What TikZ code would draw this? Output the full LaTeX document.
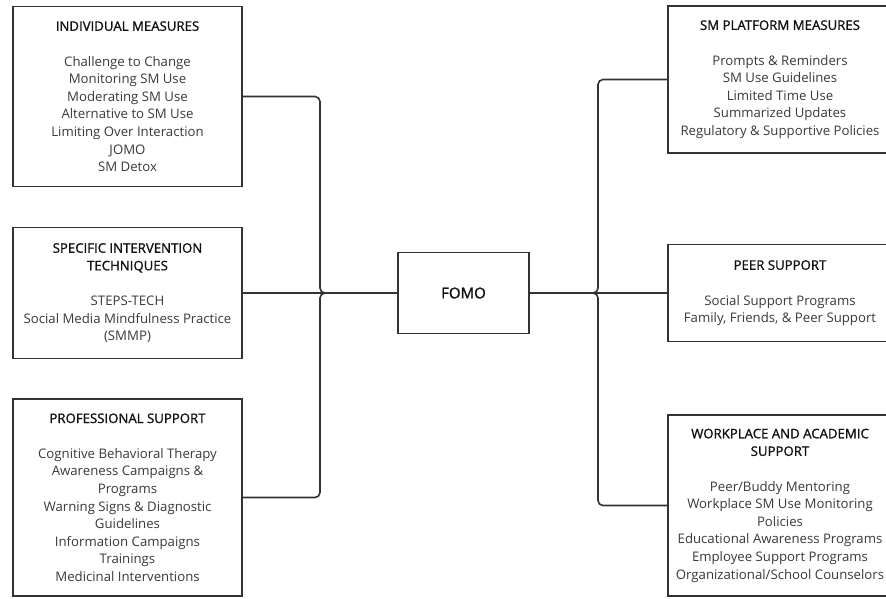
\documentclass[tikz,border=0pt]{standalone}
\usepackage{fontspec}
\setmainfont{Open Sans}
\newfontfamily\headfont[FakeBold=1.2]{Open Sans}
\usetikzlibrary{positioning,calc}
\definecolor{linec}{HTML}{333333}
\definecolor{bodyc}{HTML}{3A3A3A}
\definecolor{headc}{HTML}{111111}
\newcommand\hd[1]{{\headfont\textcolor{headc}{#1}}}
\tikzset{
  box/.style={draw=linec, line width=1.6pt, fill=white, inner sep=0pt,
    align=center, text=bodyc,
    font=\fontsize{13.2}{17.6}\selectfont},
  hub/.style={box, font=\headfont\fontsize{15}{18}\selectfont, text=headc},
  conn/.style={draw=linec, line width=1.6pt, rounded corners=5pt},
}
\begin{document}
\begin{tikzpicture}[x=1pt, y=-1pt]
\useasboundingbox (0,0) rectangle (886,598);
\clip (0,0) rectangle (886,598);

% central topic
\node[hub, minimum width=131pt, minimum height=81pt] (fomo) at (463.5,293) {FOMO};

% left-hand branches
\node[box, minimum width=229pt, minimum height=180pt] (ind) at (127.5,96.5)
  {\hd{INDIVIDUAL MEASURES}\\[17.6pt]
   Challenge to Change\\ Monitoring SM Use\\ Moderating SM Use\\
   Alternative to SM Use\\ Limiting Over Interaction\\ JOMO\\ SM Detox};
\node[box, minimum width=229pt, minimum height=131pt] (tech) at (127.5,293)
  {\hd{SPECIFIC INTERVENTION}\\ \hd{TECHNIQUES}\\[17.6pt]
   STEPS-TECH\\ Social Media Mindfulness Practice\\ (SMMP)};
\node[box, minimum width=229pt, minimum height=197pt] (prof) at (127.5,497.5)
  {\hd{PROFESSIONAL SUPPORT}\\[17.6pt]
   Cognitive Behavioral Therapy\\ Awareness Campaigns \&\\ Programs\\
   Warning Signs \& Diagnostic\\ Guidelines\\ Information Campaigns\\
   Trainings\\ Medicinal Interventions};

% right-hand branches
\node[box, minimum width=224pt, minimum height=147pt] (plat) at (780,79.5)
  {\hd{SM PLATFORM MEASURES}\\[17.6pt]
   Prompts \& Reminders\\ SM Use Guidelines\\ Limited Time Use\\
   Summarized Updates\\ Regulatory \& Supportive Policies};
\node[box, minimum width=224pt, minimum height=97pt] (peer) at (780,293)
  {\hd{PEER SUPPORT}\\[17.6pt]
   Social Support Programs\\ Family, Friends, \& Peer Support};
\node[box, minimum width=224pt, minimum height=181pt] (work) at (780,505.5)
  {\hd{WORKPLACE AND ACADEMIC}\\ \hd{SUPPORT}\\[17.6pt]
   Peer/Buddy Mentoring\\ Workplace SM Use Monitoring\\ Policies\\
   Educational Awareness Programs\\ Employee Support Programs\\
   Organizational/School Counselors};

% trunk lines
\coordinate (jl) at (320,293);
\coordinate (jr) at (598,293);

\draw[conn] (ind.east) -- (jl |- ind.east) -- (jl) -- (fomo.west);
\draw[conn] (tech.east) -- (fomo.west);
\draw[conn] (prof.east) -- (jl |- prof.east) -- (jl) -- (fomo.west);

\draw[conn] (fomo.east) -- (jr) -- (jr |- plat.west) -- (plat.west);
\draw[conn] (fomo.east) -- (peer.west);
\draw[conn] (fomo.east) -- (jr) -- (jr |- work.west) -- (work.west);
\end{tikzpicture}
\end{document}
